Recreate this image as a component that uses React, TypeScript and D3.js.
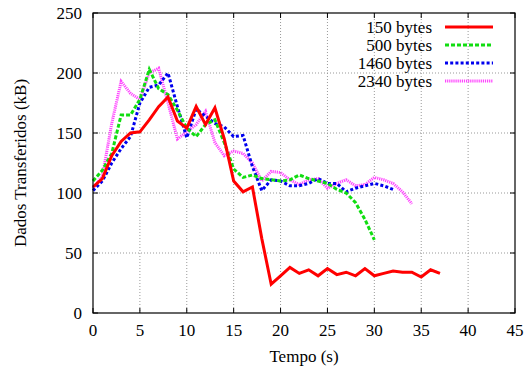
import { useEffect, useRef } from "react";
import * as d3 from "d3";

const xTicks = [0, 5, 10, 15, 20, 25, 30, 35, 40, 45];
const yTicks = [0, 50, 100, 150, 200, 250];

const seriesNames = ["150 bytes", "500 bytes", "1460 bytes", "2340 bytes"];

const bytes150 = [105, 112, 131, 143, 150, 151, 161, 172, 180, 160, 154, 172, 157, 171, 145, 110, 101, 105, 62, 24, 31, 38, 33, 36, 31, 37, 32, 34, 31, 37, 31, 33, 35, 34, 34, 30, 36, 33];
const bytes500 = [110, 119, 133, 165, 165, 178, 203, 187, 182, 169, 154, 147, 157, 161, 142, 120, 113, 115, 112, 111, 110, 111, 115, 112, 110, 108, 103, 100, 92, 78, 61];
const bytes1460 = [102, 110, 125, 137, 147, 175, 188, 190, 200, 172, 146, 170, 164, 158, 155, 147, 148, 122, 102, 111, 110, 106, 106, 108, 112, 108, 108, 101, 104, 106, 108, 106, 103];
const bytes2340 = [104, 114, 158, 193, 183, 178, 200, 204, 175, 145, 151, 157, 168, 142, 131, 135, 133, 125, 110, 118, 117, 111, 107, 111, 112, 104, 108, 111, 106, 107, 113, 111, 108, 101, 91];

const colors = ["#ff0000", "#11dd11", "#0000ee", "#ff44ff"];
const dashes = ["none", "4,2", "3,2.2", "1.2,0.9"];

export default function App() {
  const ref = useRef<SVGSVGElement>(null);

  useEffect(() => {
    const width = 529;
    const height = 372;
    const left = 93, right = 515, top = 13, bottom = 313;

    const svg = d3.select(ref.current);
    svg.selectAll("*").remove();

    const x = d3.scaleLinear([0, 45], [left, right]);
    const y = d3.scaleLinear([0, 250], [bottom, top]);

    // grid
    const grid = svg.append("g").attr("stroke", "#999").attr("stroke-width", 1).attr("stroke-dasharray", "1,2");
    xTicks.slice(1, -1).forEach((t) => {
      grid.append("line").attr("x1", x(t)).attr("x2", x(t)).attr("y1", top).attr("y2", bottom);
    });
    yTicks.slice(1, -1).forEach((t) => {
      grid.append("line").attr("x1", left).attr("x2", right).attr("y1", y(t)).attr("y2", y(t));
    });

    // tick marks (inward, mirrored)
    const ticks = svg.append("g").attr("stroke", "#000").attr("stroke-width", 1);
    xTicks.forEach((t) => {
      ticks.append("line").attr("x1", x(t)).attr("x2", x(t)).attr("y1", bottom).attr("y2", bottom - 5);
      ticks.append("line").attr("x1", x(t)).attr("x2", x(t)).attr("y1", top).attr("y2", top + 5);
    });
    yTicks.forEach((t) => {
      ticks.append("line").attr("x1", left).attr("x2", left + 5).attr("y1", y(t)).attr("y2", y(t));
      ticks.append("line").attr("x1", right).attr("x2", right - 5).attr("y1", y(t)).attr("y2", y(t));
    });

    // tick labels
    svg.append("g")
      .selectAll("text")
      .data(xTicks)
      .join("text")
      .attr("x", (d) => x(d))
      .attr("y", bottom + 23)
      .attr("text-anchor", "middle")
      .text((d) => d);

    svg.append("g")
      .selectAll("text")
      .data(yTicks)
      .join("text")
      .attr("x", left - 11)
      .attr("y", (d) => y(d) + 6)
      .attr("text-anchor", "end")
      .text((d) => d);

    svg.append("text")
      .attr("x", (left + right) / 2)
      .attr("y", 362)
      .attr("text-anchor", "middle")
      .text("Tempo (s)");

    svg.append("text")
      .attr("transform", `translate(26,${(top + bottom) / 2}) rotate(-90)`)
      .attr("text-anchor", "middle")
      .text("Dados Transferidos (kB)");

    // lines
    const allSeries = [bytes150, bytes500, bytes1460, bytes2340];
    const line = d3.line<number>().x((d, i) => x(i)).y((d) => y(d));

    const legend = svg.append("g");
    allSeries.forEach((s, i) => {
      const ly = 27 + i * 18;
      legend.append("text")
        .attr("x", 432)
        .attr("y", ly + 6)
        .attr("text-anchor", "end")
        .text(seriesNames[i]);
      legend.append("line")
        .attr("x1", 445).attr("x2", 493)
        .attr("y1", ly).attr("y2", ly)
        .attr("stroke", colors[i])
        .attr("stroke-width", 3)
        .attr("stroke-dasharray", dashes[i]);
    });

    [3, 2, 1, 0].forEach((i) => {
      svg.append("path")
        .datum(allSeries[i])
        .attr("d", line)
        .attr("fill", "none")
        .attr("stroke", colors[i])
        .attr("stroke-width", 3)
        .attr("stroke-dasharray", dashes[i]);
    });

    // border
    svg.append("rect")
      .attr("x", left).attr("y", top)
      .attr("width", right - left).attr("height", bottom - top)
      .attr("fill", "none").attr("stroke", "#000").attr("stroke-width", 1.2);

    svg.attr("width", width).attr("height", height);
  }, []);

  return (
    <svg
      ref={ref}
      width={529}
      height={372}
      style={{
        position: "absolute",
        left: 0,
        top: 0,
        background: "#fff",
        fontFamily: '"Liberation Serif", "Times New Roman", Times, serif',
        fontSize: "17px",
      }}
    />
  );
}
